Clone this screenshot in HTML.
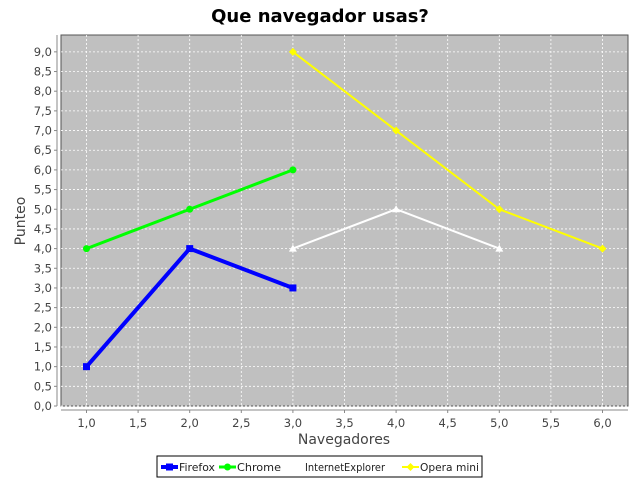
<!DOCTYPE html>
<html><head><meta charset="utf-8"><style>
body{margin:0;background:#fff;font-family:"DejaVu Sans","Liberation Sans",sans-serif}
</style></head><body>
<svg id="chart" width="640" height="480" xmlns="http://www.w3.org/2000/svg">
<rect width="640" height="480" fill="#fff"/>
<text x="320" y="22" text-anchor="middle" font-weight="bold" font-size="18" fill="#000">Que navegador usas?</text>
<g id="grid"></g>
<g id="axes"></g>
<g id="series"></g>
<text transform="translate(25,221) rotate(-90)" text-anchor="middle" font-size="14" fill="#444">Punteo</text>
<text x="344" y="444" text-anchor="middle" font-size="14" fill="#444">Navegadores</text>
<g id="legend">
<rect x="157" y="456" width="325" height="21" fill="#fff" stroke="#000" stroke-width="1"/>
</g>
</svg>
<script>
const seriesNames=["Firefox","Chrome","InternetExplorer","Opera mini"];
const firefoxX=[1,2,3];const firefoxY=[1,4,3];
const chromeX=[1,2,3];const chromeY=[4,5,6];
const ieX=[3,4,5];const ieY=[4,5,4];
const operaX=[3,4,5,6];const operaY=[9,7,5,4];
const xTicks=[1,1.5,2,2.5,3,3.5,4,4.5,5,5.5,6];
const yTicks=[0,0.5,1,1.5,2,2.5,3,3.5,4,4.5,5,5.5,6,6.5,7,7.5,8,8.5,9];
const L=61,R=628,T=35,B=406;
const xs=v=>86.5+(v-1)*103.2;
const ys=v=>406-v*39.35;
const NS="http://www.w3.org/2000/svg";
function mk(tag,attrs,parent,txt){const e=document.createElementNS(NS,tag);for(const k in attrs)e.setAttribute(k,attrs[k]);if(txt!==undefined)e.textContent=txt;parent.appendChild(e);return e;}
const grid=document.getElementById('grid'),axes=document.getElementById('axes'),ser=document.getElementById('series');
const bg=mk('rect',{x:L,y:T,width:R-L,height:B-T,fill:'#c0c0c0',stroke:'#555','stroke-width':1},grid);


const fmt=v=>v.toFixed(1).replace('.',',');
xTicks.forEach(v=>{
 const x=xs(v);
 mk('line',{x1:x,y1:T,x2:x,y2:B,stroke:'#fff','stroke-dasharray':'2,2','stroke-width':0.8},grid);
 mk('line',{x1:x,y1:410,x2:x,y2:413,stroke:'#888'},axes);
 const t=mk('text',{x:x,y:427,'text-anchor':'middle','font-size':11.5,fill:'#444'},axes,fmt(v));
 
 
});
yTicks.forEach(v=>{
 const y=ys(v);
 mk('line',{x1:L,y1:y,x2:R,y2:y,stroke:'#fff','stroke-dasharray':'2,2','stroke-width':0.8},grid);
 mk('line',{x1:54,y1:y,x2:57,y2:y,stroke:'#888'},axes);
 const t=mk('text',{x:52,y:y+4,'text-anchor':'end','font-size':11.5,fill:'#444'},axes,fmt(v));
 
 
});
mk('line',{x1:57,y1:T,x2:57,y2:B,stroke:'#888'},axes);
mk('line',{x1:L,y1:410,x2:R,y2:410,stroke:'#888'},axes);
const cfg=[
 {x:firefoxX,y:firefoxY,c:'#0000ff',w:4,m:'square',n:'series-firefox'},
 {x:chromeX,y:chromeY,c:'#00ff00',w:3,m:'circle',n:'series-chrome'},
 {x:ieX,y:ieY,c:'#ffffff',w:2,m:'tri',n:'series-internetexplorer'},
 {x:operaX,y:operaY,c:'#ffff00',w:2,m:'diamond',n:'series-opera-mini'}];
function marker(g,m,x,y,c){
 if(m==='square')return mk('rect',{x:x-3.5,y:y-3.5,width:7,height:7,fill:c},g);
 if(m==='circle')return mk('circle',{cx:x,cy:y,r:3.5,fill:c},g);
 if(m==='tri')return mk('polygon',{points:`${x},${y-4} ${x+4},${y+3} ${x-4},${y+3}`,fill:c},g);
 return mk('polygon',{points:`${x},${y-4} ${x+4},${y} ${x},${y+4} ${x-4},${y}`,fill:c},g);
}
cfg.forEach(s=>{
 const g=mk('g',{},ser);
 
 
 const pts=s.x.map((v,i)=>xs(v)+','+ys(s.y[i])).join(' ');
 mk('polyline',{points:pts,fill:'none',stroke:s.c,'stroke-width':s.w},g);
 s.x.forEach((v,i)=>{const p=marker(g,s.m,xs(v),ys(s.y[i]),s.c);
  
  });
});
const leg=document.getElementById('legend');
const lx=[161,219,287,402];
const tlen=[36,44,80,59];
cfg.forEach((s,i)=>{
 const g=mk('g',{},leg);
 
 
 mk('line',{x1:lx[i],y1:467,x2:lx[i]+17,y2:467,stroke:s.c,'stroke-width':s.w},g);
 marker(g,s.m,lx[i]+8.5,467,s.c);
 mk('text',{x:lx[i]+18,y:471,'font-size':11,fill:'#222','textLength':tlen[i],'lengthAdjust':'spacingAndGlyphs'},g,seriesNames[i]);
});
</script>
</body></html>
